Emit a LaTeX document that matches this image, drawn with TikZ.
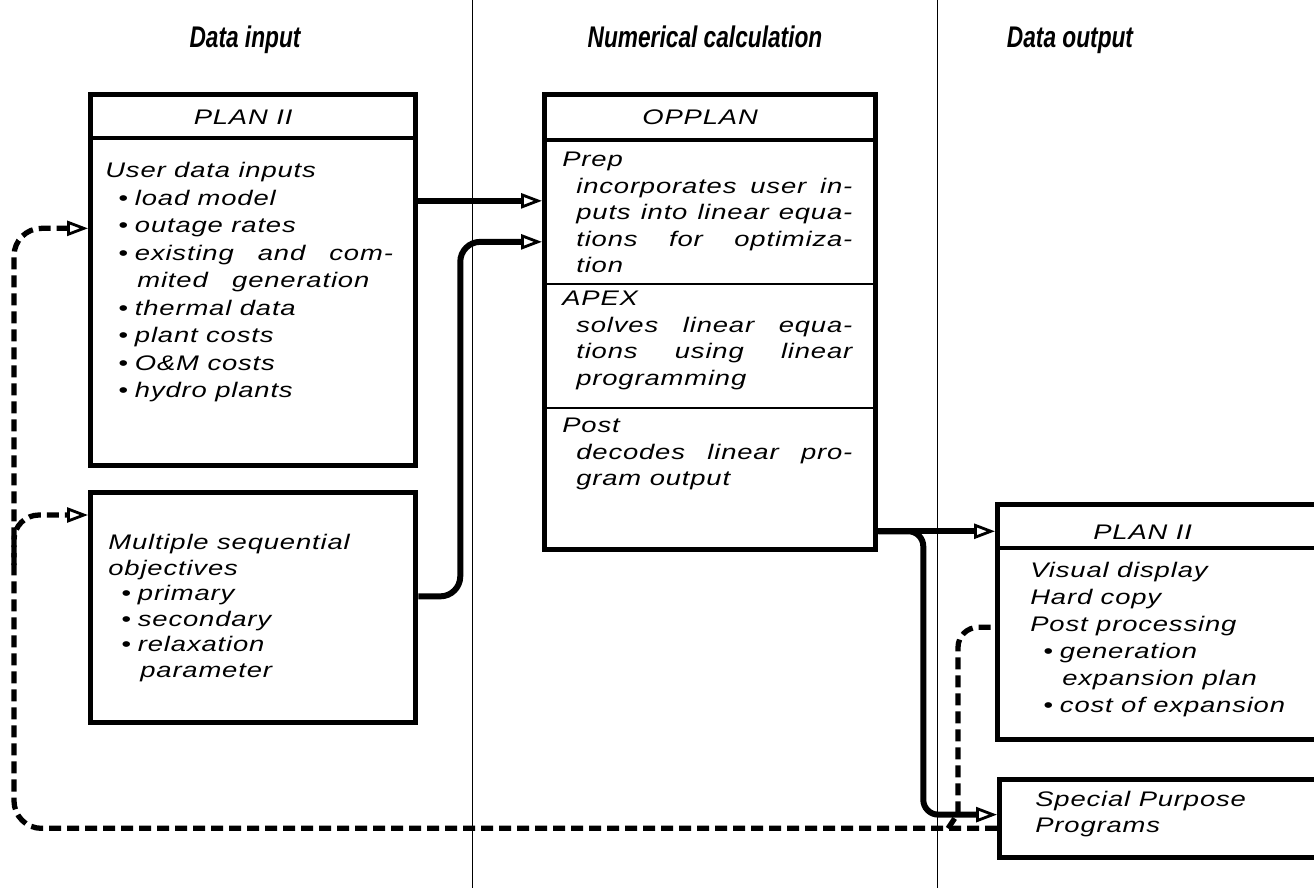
\documentclass[tikz,border=0pt]{standalone}
\usepackage{fontspec}
\setmainfont{Liberation Sans}
\newfontfamily\bodyfont[FakeStretch=1.3, LetterSpace=4]{Liberation Sans}
\newfontfamily\headfont[FakeStretch=0.76]{Liberation Sans}
\usetikzlibrary{arrows.meta, positioning, matrix, calc}

% list helpers for the box texts
\newcommand{\itm}[1]{\hspace*{0.26cm}\textbullet\hspace{0.14cm}#1}
\newcommand{\cnt}[1]{\hspace*{0.64cm}#1}
\newcommand{\jline}[1]{\hspace*{0.28cm}\makebox[5.52cm][s]{#1}}

\begin{document}
\begin{tikzpicture}[
    col_head/.style={font=\headfont\bfseries\itshape\fontsize{17}{19}\selectfont, anchor=base},
    prog_box/.style={draw, line width=3pt, inner sep=0pt, anchor=north west},
    box_rule/.style={line width=2.8pt},
    sec_rule/.style={line width=1.4pt},
    col_rule/.style={line width=1pt},
    box_title/.style={font=\bodyfont\itshape\fontsize{12}{14}\selectfont},
    text_row/.style={font=\bodyfont\itshape\fontsize{12}{14}\selectfont, inner sep=0pt, text height=0.36cm, text depth=0.19cm},
    text_block/.style={matrix of nodes, nodes={text_row}, inner sep=0pt, column 1/.style={anchor=base west}},
    flow/.style={line width=3.4pt, -{Triangle[open, length=4.2mm, width=3mm, line width=1.6pt]}},
    feed_line/.style={line width=3pt, dash pattern=on 2.4mm off 1.2mm},
    feed/.style={feed_line, -{Triangle[open, length=4.2mm, width=3mm, line width=1.6pt]}}
]
    \useasboundingbox (0,0) rectangle (26.28,-17.76);

    % column separators and headings
    \foreach \x in {9.45, 18.75}
        \draw[col_rule] (\x,0) -- (\x,-17.76);
    \node[col_head] (head_in) at (4.9,-0.96) {Data input};
    \node[col_head] (head_calc) at (14.1,-0.96) {Numerical calculation};
    \node[col_head] (head_out) at (21.4,-0.96) {Data output};

    % PLAN II, input side
    \node[prog_box, minimum width=6.5cm, minimum height=7.42cm] (planin) at (1.76,-1.84) {};
    \draw[box_rule] ([yshift=-0.92cm]planin.north west) -- ([yshift=-0.92cm]planin.north east);
    \node[box_title] (planin_title) at ([xshift=-0.2cm, yshift=-0.5cm]planin.north) {PLAN II};
    \matrix[text_block, row sep=0cm, below right=1.345cm and 0.34cm of planin.north west] (planin_txt) {
        User data inputs \\
        \itm{load model} \\
        \itm{outage rates} \\
        \itm{\makebox[5.16cm][s]{existing and com-}} \\
        \cnt{\makebox[4.64cm][s]{mited generation}} \\
        \itm{thermal data} \\
        \itm{plant costs} \\
        \itm{O\&M costs} \\
        \itm{hydro plants} \\
    };

    % objectives box
    \node[prog_box, minimum width=6.5cm, minimum height=4.6cm] (objs) at (1.76,-9.8) {};
    \matrix[text_block, row sep=-0.04cm, below right=0.825cm and 0.4cm of objs.north west] (objs_txt) {
        Multiple sequential \\
        objectives \\
        \itm{primary} \\
        \itm{secondary} \\
        \itm{relaxation} \\
        \cnt{parameter} \\
    };

    % OPPLAN with its three steps
    \node[prog_box, minimum width=6.62cm, minimum height=9.1cm] (opplan) at (10.84,-1.84) {};
    \draw[box_rule] ([yshift=-0.96cm]opplan.north west) -- ([yshift=-0.96cm]opplan.north east);
    \node[box_title] (opplan_title) at ([xshift=-0.2cm, yshift=-0.5cm]opplan.north) {OPPLAN};
    \coordinate (cut_apex) at ([yshift=-3.84cm]opplan.north west);
    \coordinate (cut_post) at ([yshift=-6.32cm]opplan.north west);
    \draw[sec_rule] (cut_apex) -- (cut_apex -| opplan.east);
    \draw[sec_rule] (cut_post) -- (cut_post -| opplan.east);
    \matrix[text_block, row sep=-0.02cm, below right=1.125cm and 0.4cm of opplan.north west] (prep_txt) {
        Prep \\
        \jline{incorporates user in-} \\
        \jline{puts into linear equa-} \\
        \jline{tions for optimiza-} \\
        \hspace*{0.28cm}tion \\
    };
    \matrix[text_block, row sep=-0.02cm, below right=0.065cm and 0.4cm of cut_apex] (apex_txt) {
        APEX \\
        \jline{solves linear equa-} \\
        \jline{tions using linear} \\
        \hspace*{0.28cm}programming \\
    };
    \matrix[text_block, row sep=-0.02cm, below right=0.125cm and 0.4cm of cut_post] (post_txt) {
        Post \\
        \jline{decodes linear pro-} \\
        \hspace*{0.28cm}gram output \\
    };

    % PLAN II, output side
    \node[prog_box, minimum width=6.6cm, minimum height=4.7cm] (planout) at (19.9,-10.04) {};
    \draw[box_rule] ([yshift=-0.92cm]planout.north west) -- ([yshift=-0.92cm]planout.north east);
    \node[box_title] (planout_title) at ([xshift=-0.4cm, yshift=-0.6cm]planout.north) {PLAN II};
    \matrix[text_block, row sep=-0.01cm, below right=1.145cm and 0.7cm of planout.north west] (planout_txt) {
        Visual display \\
        Hard copy \\
        Post processing \\
        \itm{generation} \\
        \cnt{expansion plan} \\
        \itm{cost of expansion} \\
    };

    % special purpose programs
    \node[prog_box, minimum width=6.6cm, minimum height=1.56cm] (special) at (19.94,-15.54) {};
    \matrix[text_block, row sep=-0.03cm, below right=0.225cm and 0.76cm of special.north west] (special_txt) {
        Special Purpose \\
        Programs \\
    };

    % data flow
    \draw[flow] (planin_txt-2-1 -| planin.east) -- (planin_txt-2-1 -| opplan.west);
    \draw[flow, rounded corners=0.4cm] (objs_txt-3-1 -| objs.east) -- ++(0.84,0) |- (prep_txt-4-1 -| opplan.west);
    \coordinate (outlink) at ([yshift=0.42cm]opplan.south east);
    \draw[flow] (outlink) -- (outlink -| planout.west);
    \draw[flow, rounded corners=0.3cm] (outlink) -- ++(0.9,0) |- ([yshift=0.08cm]special.west);

    % feedback paths
    \coordinate (fbline) at (0.28,-9);
    \coordinate (objs_in) at ([yshift=-0.5cm]objs.north west);
    \draw[feed, rounded corners=0.55cm] (special_txt-2-1 -| special.west) -| (planin_txt-3-1 -| fbline)
        -- (planin_txt-3-1 -| planin.west);
    \draw[feed, rounded corners=0.5cm] ($(objs_in -| fbline)+(0,-1)$) |- (objs_in);
    \draw[feed_line] ($(special_txt-2-1 -| special.west)+(-0.98,0)$) -- ++(0.2,0.3)
        [rounded corners=0.4cm] |- (planout_txt-3-1 -| planout.west);
\end{tikzpicture}
\end{document}
